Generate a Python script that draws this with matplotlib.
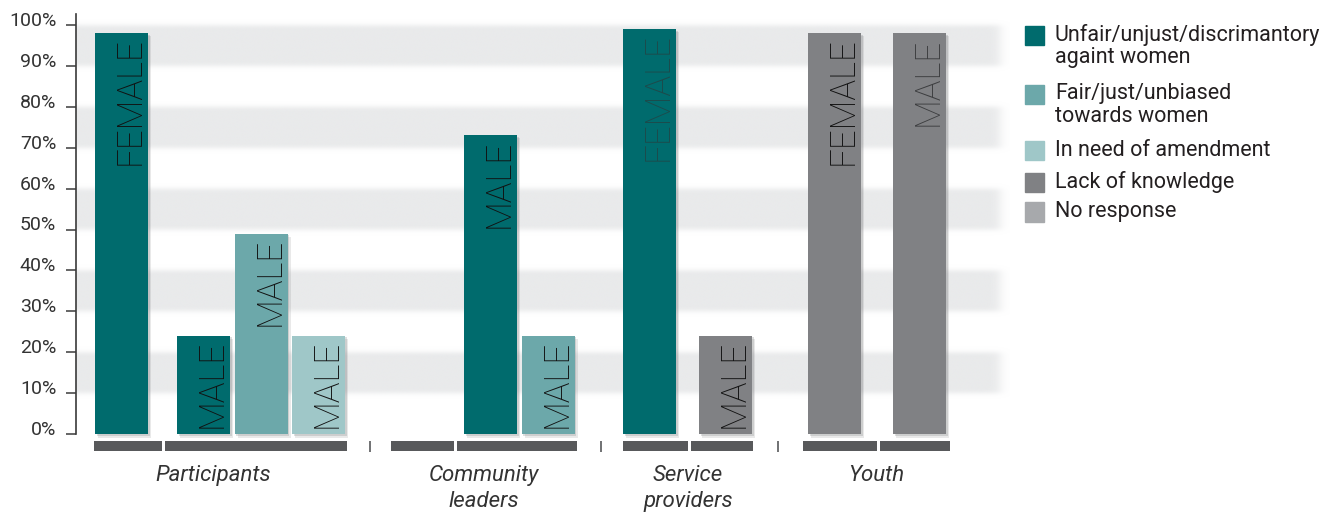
import numpy as np
import matplotlib
matplotlib.use("Agg")
import matplotlib.pyplot as plt
from matplotlib.patches import Rectangle
import matplotlib.transforms as mtransforms

# ---- data -------------------------------------------------------------
groups = ["Participants", "Community\nleaders", "Service\nproviders", "Youth"]
sexes = ["FEMALE", "MALE"]
categories = [
    "Unfair/unjust/discrimantory\nagaint women",
    "Fair/just/unbiased\ntowards women",
    "In need of amendment",
    "Lack of knowledge",
    "No response",
]

bar_group = [0, 0, 0, 0, 1, 1, 2, 2, 3, 3]
bar_sex = [0, 1, 1, 1, 1, 1, 0, 1, 0, 1]
bar_category = [0, 0, 1, 2, 0, 1, 0, 3, 3, 3]
bar_value = [98, 24, 49, 24, 73, 24, 99, 24, 98, 98]

# ---- layout (horizontal layout units) ----------------------------------
# span of every (group, sex) slot along the baseline strip
slot_span = {
    (0, 0): (94, 162), (0, 1): (165, 347),
    (1, 0): (391, 454), (1, 1): (457, 577),
    (2, 0): (623, 688), (2, 1): (691, 753),
    (3, 0): (803, 877), (3, 1): (880, 950),
}
# offset of the first bar inside its slot
slot_pad = {(0, 0): 1, (0, 1): 12, (1, 1): 7, (2, 0): 0, (2, 1): 8,
            (3, 0): 5, (3, 1): 13}
bar_width = 53
bar_step = 57.5
group_separators = [370, 601, 778]

colors = ["#006b6d", "#6ca8aa", "#9fc7c8", "#808184", "#a7a9ac"]
label_colors = ["#111111"] * len(bar_value)
label_colors[6] = "#1d4a4b"
label_colors[9] = "#3c3d3f"

FONT = "Roboto"
TEXT_WEIGHT = "normal"

W, H = 1333, 513
fig = plt.figure(figsize=(W / 100, H / 100), dpi=100)

px_per_pct = 4.09
y0_px, ax_top_px, ax_bot_px = 434, 10, 455
ylo = -(ax_bot_px - y0_px) / px_per_pct
yhi = 100 + (25 - ax_top_px) / px_per_pct
x_left, x_right = 76, 1010

ax = fig.add_axes([x_left / W, (H - ax_bot_px) / H,
                   (x_right - x_left) / W, (ax_bot_px - ax_top_px) / H])

# soft horizontal bands behind the bars
ys = np.linspace(ylo, yhi, 1200)
mask = np.zeros_like(ys)
for lo in range(10, 100, 20):
    mask[(ys >= lo) & (ys < lo + 10)] = 1.0
dy = ys[1] - ys[0]
k = np.arange(-40, 41) * dy
kern = np.exp(-0.5 * (k / 0.55) ** 2)
kern /= kern.sum()
blur = np.convolve(mask, kern, mode="same")
xs = np.linspace(x_left, x_right, 600)
fade = 1 / (1 + np.exp((xs - 1001) / 3.0))
rgba = np.zeros((len(ys), len(xs), 4))
rgba[..., 0] = 0xe9 / 255
rgba[..., 1] = 0xea / 255
rgba[..., 2] = 0xeb / 255
rgba[..., 3] = blur[:, None] * fade[None, :]
ax.imshow(rgba, extent=(x_left, x_right, ylo, yhi), origin="lower",
          aspect="auto", zorder=0, interpolation="bilinear")

# bars
slot_count = {}
for i, v in enumerate(bar_value):
    key = (bar_group[i], bar_sex[i])
    n = slot_count.get(key, 0)
    slot_count[key] = n + 1
    left = slot_span[key][0] + slot_pad[key] + n * bar_step
    # soft drop shadow
    for off, a in [(1.5, 0.22), (3.0, 0.15)]:
        ax.bar(left + off, v + 0.2, width=bar_width, bottom=-off / px_per_pct - 0.2,
               align="edge", color="#6d6e70", alpha=a, zorder=1, linewidth=0)
    ax.bar(left, v, width=bar_width, align="edge", color=colors[bar_category[i]],
           zorder=2, linewidth=0)
    weight = "light" if label_colors[i] == "#111111" else "ultralight"
    ax.text(left + bar_width - 1, v - 1.1, sexes[bar_sex[i]], rotation=90,
            ha="right", va="top", fontsize=25, color=label_colors[i],
            family=FONT, fontweight=weight, zorder=3)

# baseline strip of slots and group separators
for key, (a, b) in slot_span.items():
    ax.bar(a, 2.45, width=b - a, bottom=-4.16, align="edge", color="#58595b",
           linewidth=0, zorder=2, clip_on=False)
for xsep in group_separators:
    ax.plot([xsep, xsep], [-1.7, -4.4], color="#58595b", lw=1.2, zorder=2,
            clip_on=False, solid_capstyle="butt")

# group labels
for g, name in enumerate(groups):
    a = slot_span[(g, 0)][0]
    b = slot_span[(g, 1)][1]
    ax.text((a + b) / 2 - (7 if g == 0 else 0), -7.6, name, ha="center", va="top",
            fontsize=16, style="italic", family=FONT, fontweight=TEXT_WEIGHT,
            color="#333333", linespacing=1.3)

# axes styling
ax.set_xlim(x_left, x_right)
ax.set_ylim(ylo, yhi)
for s in ["top", "right", "bottom"]:
    ax.spines[s].set_visible(False)
ax.spines["left"].set_bounds(0, 102.7)
ax.spines["left"].set_color("#3a3a3a")
ax.spines["left"].set_linewidth(1.2)
ax.set_xticks([])
ax.set_yticks(range(0, 101, 10))
ax.set_yticklabels([f"{t}%" for t in range(0, 101, 10)])
ax.tick_params(axis="y", length=7.2, width=1.1, color="#3a3a3a", pad=7,
               labelsize=14, labelcolor="#333333")
shift = mtransforms.ScaledTranslation(0, 6 / 100, fig.dpi_scale_trans)
for lbl in ax.get_yticklabels():
    lbl.set_family(FONT)
    lbl.set_fontweight(TEXT_WEIGHT)
    lbl.set_transform(lbl.get_transform() + shift)
ax.patch.set_visible(False)

# legend
legend_rows = [35, 94, 150, 182, 212]
for c, (label, yc) in enumerate(zip(categories, legend_rows)):
    fig.patches.append(Rectangle((1025 / W, (H - yc - 9.5) / H), 19 / W, 19 / H,
                                 transform=fig.transFigure, color=colors[c]))
    for j, ln in enumerate(label.split("\n")):
        fig.text(1055 / W, (H - (yc + 22.5 * j)) / H, ln, ha="left", va="center",
                 fontsize=15.5, family=FONT, fontweight=TEXT_WEIGHT,
                 color="#231f20")

fig.savefig("out.png", dpi=100)
